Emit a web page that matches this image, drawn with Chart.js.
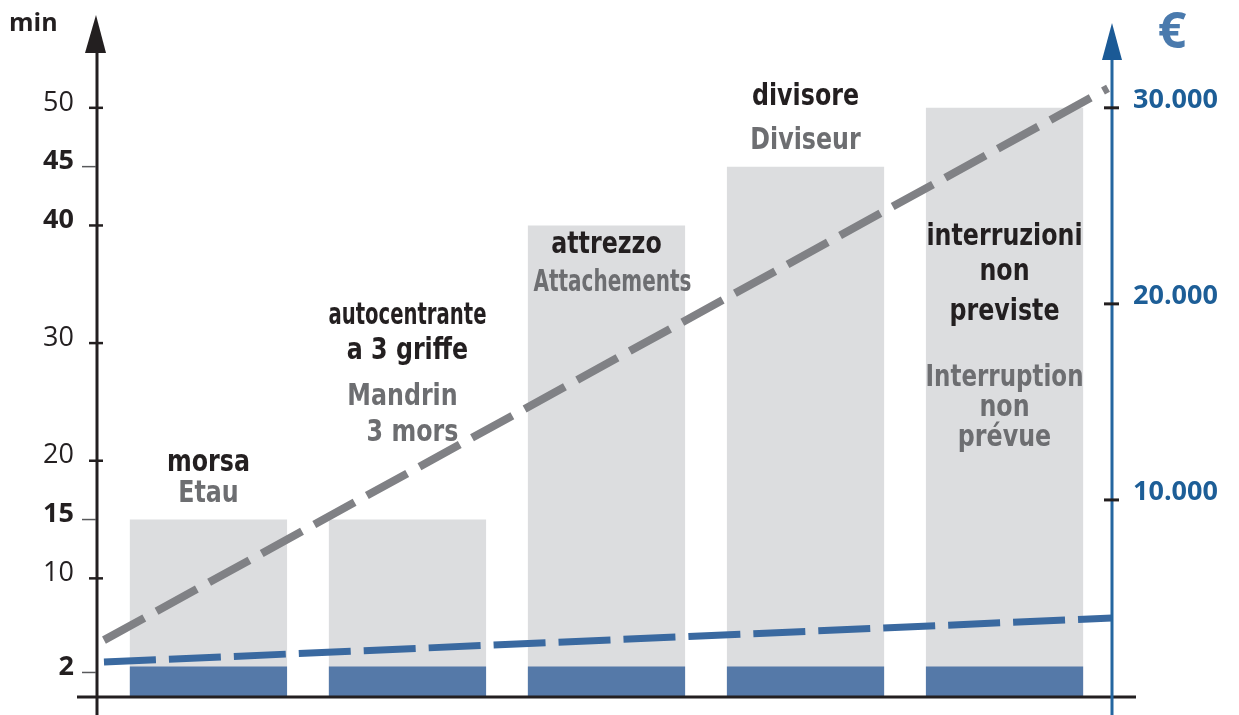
<!DOCTYPE html>
<html>
<head>
<meta charset="utf-8">
<script src="https://cdn.jsdelivr.net/npm/chart.js@4"></script>
<style>
  body { margin: 0; background: #fff; }
  #wrap { width: 1239px; height: 715px; position: relative; }
</style>
</head>
<body>
<div id="wrap"><canvas id="setupChart"></canvas></div>
<script>
// data
const categories = ['morsa', 'autocentrante a 3 griffe', 'attrezzo', 'divisore', 'interruzioni non previste'];
const barPos = [1, 2, 3, 4, 5];
const totalMinutes = [15, 15, 40, 45, 50];
const setupMinutes = [2.5, 2.5, 2.5, 2.5, 2.5];
const leftTicks = [2, 10, 15, 20, 30, 40, 45, 50];
const boldTicks = [2, 15, 40, 45];
const shortTicks = [2, 15, 45];
const rightTicks = [10000, 20000, 30000];
const costHighX = [0.475, 5.52];
const costHighY = [2850, 31000];
const costLowX = [0.475, 5.54];
const costLowY = [1730, 3980];

const BLACK = '#231f20';
const GREY_TXT = '#6d6e71';
const narrow = "'Liberation Sans Narrow', 'Arial Narrow', 'DejaVu Sans Condensed', sans-serif";
const regular = "'Open Sans', 'Noto Sans', sans-serif";

// text inside/above the bars: [bar index, y px, text, colour, x shift]
const barTexts = [
  [0, 463, 'morsa', BLACK], [0, 494, 'Etau', GREY_TXT],
  [1, 316, 'autocentrante', BLACK], [1, 351, 'a 3 griffe', BLACK],
  [1, 397, 'Mandrin', GREY_TXT, -5], [1, 433, '3 mors', GREY_TXT, 5],
  [2, 245, 'attrezzo', BLACK], [2, 283, 'Attachements', GREY_TXT, 6],
  [3, 97, 'divisore', BLACK], [3, 141, 'Diviseur', GREY_TXT],
  [4, 237, 'interruzioni', BLACK], [4, 272, 'non', BLACK], [4, 312, 'previste', BLACK],
  [4, 378, 'Interruption', GREY_TXT], [4, 408, 'non', GREY_TXT], [4, 438, 'prévue', GREY_TXT]
];

const fmtEuro = v => String(v).replace(/\B(?=(\d{3})+(?!\d))/g, '.');

const decorations = {
  id: 'decorations',
  afterDatasetsDraw(chart) {
    const ctx = chart.ctx;
    const xs = chart.scales.x;
    ctx.save();
    ctx.textAlign = 'center';
    ctx.textBaseline = 'middle';
    ctx.font = 'bold 30px ' + narrow;
    barTexts.forEach(t => {
      ctx.save();
      ctx.fillStyle = t[3];
      ctx.translate(xs.getPixelForValue(barPos[t[0]]) + (t[4] || 0), t[1]);
      const w = ctx.measureText(t[2]).width;
      ctx.scale(Math.min(0.88, 158 / w), 1); // condensed look
      ctx.fillText(t[2], 0, 0);
      ctx.restore();
    });
    ctx.restore();
  },
  afterDraw(chart) {
    const ctx = chart.ctx;
    const a = chart.chartArea;
    const y = chart.scales.y, y2 = chart.scales.y2;
    ctx.save();
    // bottom axis
    ctx.strokeStyle = BLACK;
    ctx.lineWidth = 3;
    ctx.beginPath(); ctx.moveTo(77, a.bottom + 1); ctx.lineTo(1136, a.bottom + 1); ctx.stroke();
    // left axis + arrow
    ctx.beginPath(); ctx.moveTo(a.left, 715); ctx.lineTo(a.left, 50); ctx.stroke();
    ctx.fillStyle = BLACK;
    ctx.beginPath(); ctx.moveTo(a.left - 1, 15); ctx.lineTo(a.left - 12, 53); ctx.lineTo(a.left + 9, 53); ctx.closePath(); ctx.fill();
    // left ticks
    leftTicks.forEach(v => {
      const py = y.getPixelForValue(v);
      ctx.beginPath();
      if (shortTicks.includes(v)) {
        ctx.strokeStyle = '#58595b'; ctx.lineWidth = 1.5;
        ctx.moveTo(a.left - 15, py); ctx.lineTo(a.left - 1, py);
      } else {
        ctx.strokeStyle = BLACK; ctx.lineWidth = 2.5;
        ctx.moveTo(a.left - 8, py); ctx.lineTo(a.left + 6, py);
      }
      ctx.stroke();
    });
    // right axis + arrow
    ctx.strokeStyle = '#2466a0'; ctx.lineWidth = 3;
    ctx.beginPath(); ctx.moveTo(a.right, 715); ctx.lineTo(a.right, 58); ctx.stroke();
    ctx.fillStyle = '#1b5a96';
    ctx.beginPath(); ctx.moveTo(a.right, 23); ctx.lineTo(a.right - 10, 60); ctx.lineTo(a.right + 10, 60); ctx.closePath(); ctx.fill();
    ctx.strokeStyle = BLACK; ctx.lineWidth = 3;
    rightTicks.forEach(v => {
      const py = y2.getPixelForValue(v);
      ctx.beginPath(); ctx.moveTo(a.right - 8, py); ctx.lineTo(a.right + 7, py); ctx.stroke();
    });
    // unit labels
    ctx.textBaseline = 'middle';
    ctx.textAlign = 'left';
    ctx.fillStyle = BLACK;
    ctx.font = 'bold 25px ' + regular;
    ctx.fillText('min', 9, 24);
    ctx.textAlign = 'center';
    ctx.fillStyle = '#4a7aad';
    ctx.font = 'bold 50px ' + regular;
    ctx.fillText('€', 1172, 34);
    ctx.restore();
  }
};

const noEdgePadding = s => { s.paddingTop = 0; s.paddingBottom = 0; };

new Chart(document.getElementById('setupChart'), {
  type: 'bar',
  data: {
    datasets: [
      {
        type: 'line',
        label: 'costi',
        data: costHighX.map((x, i) => ({ x, y: costHighY[i] })),
        yAxisID: 'y2',
        borderColor: '#808185',
        borderWidth: 8,
        borderDash: [46, 14],
        pointRadius: 0,
        order: 0
      },
      {
        type: 'line',
        label: 'costi setup',
        data: costLowX.map((x, i) => ({ x, y: costLowY[i] })),
        yAxisID: 'y2',
        borderColor: '#3a69a0',
        borderWidth: 7,
        borderDash: [52, 13],
        pointRadius: 0,
        order: 1
      },
      {
        label: 'setup',
        data: barPos.map((x, i) => ({ x, y: setupMinutes[i] })),
        backgroundColor: '#5579a8',
        grouped: false,
        barPercentage: 0.79,
        categoryPercentage: 1,
        order: 2
      },
      {
        label: 'tempo',
        data: barPos.map((x, i) => ({ x, y: totalMinutes[i] })),
        backgroundColor: '#dcdddf',
        grouped: false,
        barPercentage: 0.79,
        categoryPercentage: 1,
        order: 3
      }
    ]
  },
  options: {
    responsive: true,
    maintainAspectRatio: false,
    animation: false,
    layout: { padding: { top: 49, bottom: 19, left: 0, right: 0 } },
    plugins: {
      legend: { display: false },
      tooltip: { enabled: false }
    },
    scales: {
      x: {
        type: 'linear',
        min: 0.44,
        max: 5.54,
        offset: false,
        display: false,
        afterBuildTicks: s => { s.ticks = barPos.map(v => ({ value: v })); }
      },
      y: {
        position: 'left',
        min: 0,
        max: 55,
        afterBuildTicks: s => { s.ticks = leftTicks.map(v => ({ value: v })); },
        afterFit: s => { s.width = 97; noEdgePadding(s); },
        grid: { display: false, drawTicks: false },
        border: { display: false },
        ticks: {
          padding: 23,
          labelOffset: -5,
          color: BLACK,
          font: c => ({
            family: regular,
            size: 27,
            weight: boldTicks.includes(c.tick && c.tick.value) ? 'bold' : 'normal'
          })
        }
      },
      y2: {
        position: 'right',
        min: 0,
        max: 33000,
        afterBuildTicks: s => { s.ticks = rightTicks.map(v => ({ value: v })); },
        afterFit: s => { s.width = 127; noEdgePadding(s); },
        grid: { display: false, drawTicks: false },
        border: { display: false },
        ticks: {
          padding: 21,
          labelOffset: -8,
          color: '#1d5e97',
          font: { family: regular, size: 27, weight: 'bold' },
          callback: v => fmtEuro(v)
        }
      }
    }
  },
  plugins: [decorations]
});
</script>
</body>
</html>
